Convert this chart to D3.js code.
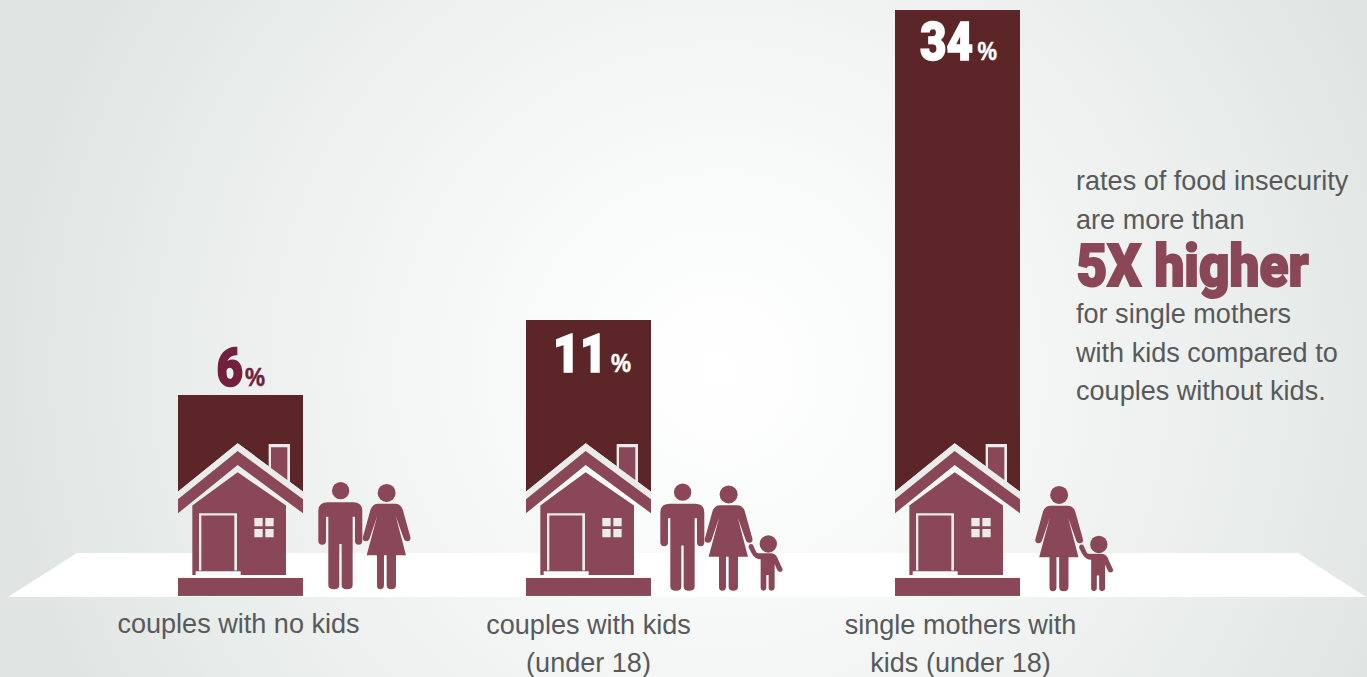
<!DOCTYPE html>
<html>
<head>
<meta charset="utf-8">
<script src="https://cdn.jsdelivr.net/npm/d3@7/dist/d3.min.js"></script>
<style>
html,body{margin:0;padding:0;background:#e6e9e8;overflow:hidden}
svg{display:block}
text{font-family:"Liberation Sans",Arial,sans-serif}
text.heavy{font-family:Roboto,"Liberation Sans",sans-serif;font-weight:900}
</style>
</head>
<body>
<svg id="chart" width="1367" height="677"></svg>
<script>
// Food insecurity rates by household type
const categories = ["couples with no kids", "couples with kids (under 18)", "single mothers with kids (under 18)"];
const rates = [6, 11, 34];
const categoryLines = [["couples with no kids"], ["couples with kids", "(under 18)"], ["single mothers with", "kids (under 18)"]];
const householdMembers = [["man", "woman"], ["man", "woman", "child"], ["woman", "child"]];
const noteBefore = ["rates of food insecurity", "are more than"];
const noteHeadline = "5X higher";
const noteAfter = ["for single mothers", "with kids compared to", "couples without kids."];

const BAR = "#5c2629", ROSE = "#8a4757", WINE = "#71213d", GREY = "#58595b", PALE = "#e9ecea";

const svg = d3.select("#chart");
const defs = svg.append("defs");
const grad = defs.append("radialGradient").attr("id", "wash")
  .attr("gradientUnits", "userSpaceOnUse").attr("cx", 720).attr("cy", 370).attr("r", 720);
grad.append("stop").attr("offset", 0).attr("stop-color", "#ffffff");
grad.append("stop").attr("offset", 0.3).attr("stop-color", "#f8faf9");
grad.append("stop").attr("offset", 0.75).attr("stop-color", "#e9edeb");
grad.append("stop").attr("offset", 1).attr("stop-color", "#e0e5e3");
svg.append("rect").attr("width", 1367).attr("height", 677).attr("fill", "url(#wash)");

// Floor the houses stand on
svg.append("path").attr("d", "M77,553H1298L1366,597H8Z").attr("fill", "#ffffff");

// Bar positions and heights
const xOffsets = [0, 348, 717];
const barX = d3.scaleOrdinal().domain(categories).range(xOffsets.map(o => 178 + o));
const barWidth = 125;
const y = d3.scaleLinear().domain([6, 11, 34]).range([395, 320, 10]);

// The bar ends along the house roof, so its outline is built from the top value
function barPath(v) {
  const p = d3.path();
  p.moveTo(0, y(v));
  p.lineTo(barWidth, y(v));
  p.lineTo(barWidth, 491.7);
  p.lineTo(59.7, 443.3);
  p.lineTo(0, 491.7);
  p.closePath();
  return p.toString();
}

const groups = svg.selectAll("g.household").data(categories).join("g")
  .attr("class", "household")
  .attr("transform", d => `translate(${barX(d)},0)`);

groups.append("path").attr("d", (d, i) => barPath(rates[i])).attr("fill", BAR);

// House glyph, drawn in a 3x grid for finer control of the shapes
const house = groups.append("g").attr("transform", "scale(0.3333) translate(-54,1020)");
house.append("path").attr("d", "M54,455L233,310L429,455V478L233,333L54,478Z").attr("fill", PALE);
house.append("path").attr("d", "M326,312H390V428L326,380Z").attr("fill", PALE);
house.append("path").attr("d", "M333,322H382V420L333,384Z").attr("fill", ROSE);
house.append("path").attr("d", "M54,478L233,333L429,478V520L233,375L54,520Z").attr("fill", ROSE);
house.append("path").attr("d", "M97,497L233,397L378,497V705H97Z").attr("fill", ROSE);
house.append("path").attr("fill", PALE).attr("fill-rule", "evenodd")
  .attr("d", "M117,520H231V692H223V527H124V692H117Z");
house.append("rect").attr("x", 107).attr("y", 694).attr("width", 135).attr("height", 11).attr("fill", "#ffffff");
house.append("path").attr("fill", PALE)
  .attr("d", "M283,534H308V559H283ZM316,534H341V559H316ZM283,567H308V592H283ZM316,567H341V592H316Z");
house.append("rect").attr("x", 54).attr("y", 714).attr("width", 375).attr("height", 54).attr("fill", ROSE);

// Family pictograms share the same 3x grid
const figures = {
  man: g => {
    g.append("circle").attr("cx", 542).attr("cy", 452).attr("r", 26);
    g.append("path").attr("d", "M503,487H580Q607,487 607,514V602Q607,614 596,614Q585,614 585,602V530H578V735Q578,748 561,748Q545,748 545,735V612H538V735Q538,748 522,748Q505,748 505,735V530H498V602Q498,614 487,614Q475,614 475,602V514Q475,487 503,487Z");
  },
  woman: g => {
    g.append("circle").attr("cx", 680).attr("cy", 459).attr("r", 27);
    g.append("path").attr("d", "M655,491H705Q722,491 728,508L751,590Q754,603 742,604Q733,604 730,592L707,527L738,646H708V735Q708,748 694,748Q680,748 680,735V646H672V735Q672,748 661,748Q651,748 651,735V646H620L652,527L630,592Q627,604 618,604Q606,603 609,590L632,508Q638,491 655,491Z");
  },
  child: g => {
    const c = g.append("g").attr("transform", "translate(414,385.5)");
    c.append("circle").attr("cx", 385).attr("cy", 222).attr("r", 26);
    c.append("path").attr("d", "M362,250H395Q410,252 415,270L428,298Q428,306 420,306Q414,306 410,296L404,282V352Q404,362 394,362Q386,362 386,352V315H379V352Q379,362 370,362Q362,362 362,352V268Q345,268 335,250L326,232Q326,222 333,222Q340,222 342,232L350,248Q355,250 362,250Z");
  }
};
const familyOffsets = [[0, 0], [342, 1.5], [672.5, 2]];
householdMembers.forEach((members, i) => {
  const g = svg.append("g").attr("fill", ROSE)
    .attr("transform", `translate(${familyOffsets[i][0]},${familyOffsets[i][1]}) translate(160,340) scale(0.3333)`);
  members.forEach(m => figures[m](g));
});

// Value labels: large number with a small percent sign
const valuePlacement = [
  { nx: 216.5, nw: 26.5, base: 386, px: 245, pw: 20, fill: WINE },
  { nx: 553, nw: 54, base: 372, px: 611, pw: 20, fill: "#ffffff" },
  { nx: 920, nw: 53, base: 59.5, px: 977.5, pw: 19.5, fill: "#ffffff" }
];
rates.forEach((v, i) => {
  const s = valuePlacement[i];
  svg.append("text").attr("class", "heavy").text(v).attr("x", s.nx).attr("y", s.base)
    .attr("font-size", 54).attr("fill", s.fill)
    .attr("stroke", s.fill).attr("stroke-width", 1.6)
    .attr("textLength", s.nw).attr("lengthAdjust", "spacingAndGlyphs");
  svg.append("text").text("%").attr("x", s.px).attr("y", s.base)
    .attr("font-size", 26).attr("font-weight", 700).attr("fill", s.fill)
    .attr("stroke", s.fill).attr("stroke-width", 0.5)
    .attr("textLength", s.pw).attr("lengthAdjust", "spacingAndGlyphs");
});

// Body copy is set slightly condensed
const BODY_SIZE = 28.5, BODY_SQUEEZE = 0.95;
const bodyText = (t, xx, yy, anchor) => svg.append("text").text(t)
  .attr("transform", `translate(${xx},${yy}) scale(${BODY_SQUEEZE},1)`)
  .attr("text-anchor", anchor).attr("font-size", BODY_SIZE).attr("fill", GREY);

// Category captions under the floor
const captionX = [238.5, 588.5, 960.5];
const captionY = [633, 634, 634];
categoryLines.forEach((lines, i) => {
  lines.forEach((line, j) => bodyText(line, captionX[i], captionY[i] + j * 38, "middle"));
});

// Side note
noteBefore.forEach((t, j) => bodyText(t, 1076, 190 + j * 39, "start"));
svg.append("text").attr("class", "heavy").text(noteHeadline).attr("x", 1076.5).attr("y", 286)
  .attr("font-size", 60).attr("fill", ROSE)
  .attr("stroke", ROSE).attr("stroke-width", 2)
  .attr("textLength", 232).attr("lengthAdjust", "spacingAndGlyphs");
noteAfter.forEach((t, j) => bodyText(t, 1076, 323 + j * 38.5, "start"));
</script>
</body>
</html>
